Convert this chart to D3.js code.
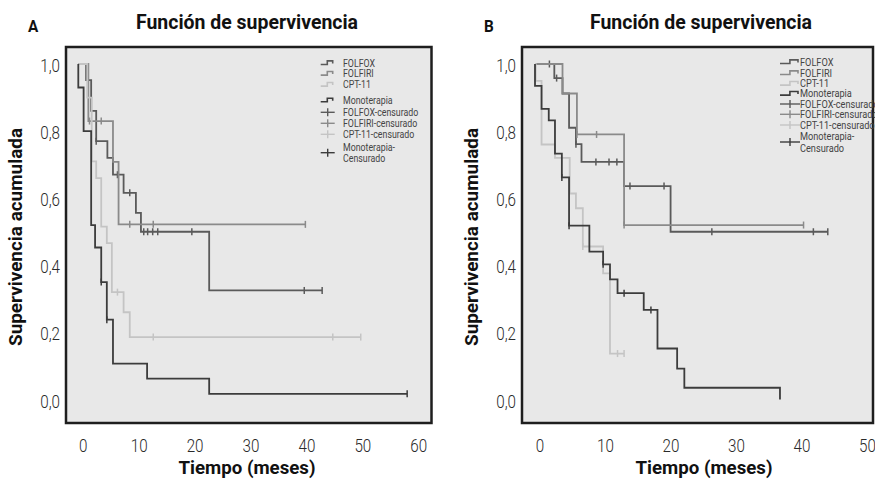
<!DOCTYPE html>
<html>
<head>
<meta charset="utf-8">
<script src="https://cdn.jsdelivr.net/npm/d3@7"></script>
<style>
  body { margin: 0; background: #fff; }
  svg { display: block; }
  text { font-family: Roboto, "Noto Sans", sans-serif; }
</style>
</head>
<body>
<div id="grafico"></div>
<script>
// ---- datos: tiempos (meses) de cada evento y supervivencia despues del evento ----
var seriesNombres = ["FOLFOX", "FOLFIRI", "CPT-11", "Monoterapia"];
var leyendaTextos = ["FOLFOX", "FOLFIRI", "CPT-11", "Monoterapia", "FOLFOX-censurado",
                     "FOLFIRI-censurado", "CPT-11-censurado", "Monoterapia-|Censurado"];
var ticksX_A = [0, 10, 20, 30, 40, 50, 60];
var ticksX_B = [0, 10, 20, 30, 40, 50];
var ticksY = [0, 0.2, 0.4, 0.6, 0.8, 1.0];

// Panel A
var A_folfox_t = [1.4, 2.3, 3.2, 5.2, 6.2, 8.1, 10.3, 11.2, 23.4];
var A_folfox_s = [0.952, 0.86, 0.77, 0.72, 0.67, 0.616, 0.556, 0.50, 0.325];
var A_folfox_c = [3.2, 7.0, 9.2, 11.7, 12.4, 13.3, 14.2, 20.3, 40.4, 43.6];
var A_folfox_fin = 43.6;

var A_folfiri_t = [1.8, 6.2, 7.2];
var A_folfiri_s = [0.83, 0.708, 0.522];
var A_folfiri_c = [2.0, 4.1, 9.2, 13.4, 40.6];
var A_folfiri_fin = 40.6;

var A_cpt_t = [1.6, 2.4, 3.2, 4.1, 5.1, 6.0, 8.1, 9.2];
var A_cpt_s = [0.90, 0.71, 0.66, 0.515, 0.466, 0.32, 0.26, 0.186];
var A_cpt_c = [7.0, 13.4, 45.5, 50.5];
var A_cpt_fin = 50.5;

var A_mono_t = [0.0, 0.95, 2.3, 3.0, 4.1, 5.1, 6.2, 12.3, 23.4];
var A_mono_s = [0.93, 0.80, 0.52, 0.453, 0.35, 0.238, 0.107, 0.062, 0.017];
var A_mono_c = [4.1, 5.1, 58.8];
var A_mono_fin = 58.8;

// Panel B
var B_folfox_t = [2.95, 4.2, 5.2, 6.25, 7.1, 13.6, 20.7];
var B_folfox_s = [0.958, 0.912, 0.81, 0.761, 0.708, 0.636, 0.50];
var B_folfox_c = [2.2, 3.3, 6.25, 9.3, 11.3, 12.5, 14.5, 19.7, 27.0, 42.5, 44.7];
var B_folfox_fin = 44.7;

var B_folfiri_t = [4.2, 6.4, 13.6];
var B_folfiri_s = [0.912, 0.79, 0.52];
var B_folfiri_c = [6.4, 9.4, 13.6, 41.0];
var B_folfiri_fin = 41.0;

var B_cpt_t = [0.1, 1.0, 3.05, 5.3, 6.25, 7.3, 10.4, 11.45];
var B_cpt_s = [0.95, 0.76, 0.72, 0.614, 0.57, 0.456, 0.376, 0.137];
var B_cpt_c = [7.3, 12.6, 13.6];
var B_cpt_fin = 13.6;

var B_mono_t = [0.0, 1.0, 2.1, 3.05, 4.1, 5.2, 8.3, 10.4, 11.45, 12.6, 16.6, 18.7, 21.7, 22.8, 37.4];
var B_mono_s = [0.935, 0.866, 0.832, 0.733, 0.662, 0.518, 0.441, 0.403, 0.358, 0.317, 0.267, 0.152, 0.092, 0.035, 0.0];
var B_mono_c = [4.1, 5.2, 10.4, 13.6, 17.7];
var B_mono_fin = 37.4;

// ---- estilo ----
var colores = ["#5a5a5a", "#8a8a8a", "#c4c4c4", "#3c3c3c"];
var fondo = "#e8e8e8";
var estrecho = 0.8; // las letras del original son condensadas

var svg = d3.select("#grafico").append("svg").attr("width", 875).attr("height", 484);
svg.append("rect").attr("width", 875).attr("height", 484).attr("fill", "#fff");

var y = d3.scaleLinear().domain([0, 1]).range([399.5, 64]);

function supervivencia(tiempos, valores, t) {
   var s = 1;
   for (var i = 0; i < tiempos.length; i++) {
      if (tiempos[i] <= t) s = valores[i];
   }
   return s;
}

// texto en negrita con ancho fijo (como en la figura)
function negrita(g, x, yy, txt, size, ancho, rot) {
   var t = g.append("text")
      .attr("text-anchor", "middle")
      .style("font-weight", "bold").style("font-size", size + "px").attr("fill", "#111")
      .attr("textLength", ancho).attr("lengthAdjust", "spacingAndGlyphs")
      .text(txt);
   if (rot) t.attr("transform", "translate(" + x + "," + yy + ") rotate(-90)");
   else t.attr("x", x).attr("y", yy);
   return t;
}

function panel(conf) {
   var g = svg.append("g");
   var x = conf.x;
   // caja
   g.append("rect")
      .attr("x", conf.caja[0]).attr("y", 47)
      .attr("width", conf.caja[1] - conf.caja[0]).attr("height", 423 - 47)
      .attr("fill", fondo).attr("stroke", "#1e1e1e").attr("stroke-width", 2.5);

   // letra y titulo
   g.append("text").attr("x", 0).attr("y", 0)
      .style("font-weight", "bold").style("font-size", "17px").attr("fill", "#111")
      .attr("transform", "translate(" + conf.letra + ",32) scale(0.9,1)")
      .text(conf.nombre);
   negrita(g, conf.tituloX, 29, "Función de supervivencia", 20, 222);

   // ejes
   var ax = g.append("g")
      .call(d3.axisBottom(x).tickValues(conf.ticks).tickSize(0).tickFormat(d3.format("d")))
      .attr("transform", "translate(4.4,436)");
   ax.select(".domain").remove();
   ax.selectAll("text").style("font-size", "19px").style("font-weight", 300).attr("fill", "#2a2a2a")
      .attr("transform", "scale(" + estrecho + ",1)");

   var ay = g.append("g").attr("transform", "translate(" + (conf.caja[0] - 6) + ",1.5)")
      .call(d3.axisLeft(y).tickValues(ticksY).tickSize(0)
         .tickFormat(function(d) { return d3.format(".1f")(d).replace(".", ","); }));
   ay.select(".domain").remove();
   ay.selectAll("text").style("font-size", "19px").style("font-weight", 300).attr("fill", "#2a2a2a")
      .attr("x", 0).attr("transform", "scale(" + estrecho + ",1)");

   negrita(g, conf.tituloXeje, 474, "Tiempo (meses)", 19, 137);
   negrita(g, conf.tituloY, 237, "Supervivencia acumulada", 18, 218, true);

   // curvas
   var linea = d3.line().x(function(d) { return x(d[0]); }).y(function(d) { return y(d[1]); })
      .curve(d3.curveStepAfter);
   conf.series.forEach(function(s, i) {
      var puntos = [[0, 1]];
      s.t.forEach(function(t, k) { puntos.push([t, s.s[k]]); });
      puntos.push([s.fin, s.s[s.s.length - 1]]);
      g.append("path").attr("d", linea(puntos)).attr("fill", "none")
         .attr("stroke", colores[i]).attr("stroke-width", 1.8);
      g.selectAll(null).data(s.c).enter().append("line")
         .attr("x1", function(d) { return x(d); }).attr("x2", function(d) { return x(d); })
         .attr("y1", function(d) { return y(supervivencia(s.t, s.s, d)) - 3.5; })
         .attr("y2", function(d) { return y(supervivencia(s.t, s.s, d)) + 3.5; })
         .attr("stroke", colores[i]).attr("stroke-width", 1.5);
   });

   // leyenda
   var lx = conf.leyenda.x, w = conf.leyenda.w;
   conf.leyenda.filas.forEach(function(fy, i) {
      var col = colores[i % 4];
      if (i < 4) {
         g.append("path")
            .attr("d", "M" + lx + "," + (fy + 1.8) + "H" + (lx + w * 0.55) + "V" + (fy - 1.8) +
                       "H" + (lx + w) + "V" + (fy + 0.8))
            .attr("fill", "none").attr("stroke", col).attr("stroke-width", 1.6);
      } else {
         var cy = (i == 7) ? fy + 6 : fy;
         g.append("line").attr("x1", lx).attr("x2", lx + w + 2).attr("y1", cy).attr("y2", cy)
            .attr("stroke", col).attr("stroke-width", 1.4);
         g.append("line").attr("x1", lx + (w + 2) / 2).attr("x2", lx + (w + 2) / 2)
            .attr("y1", cy - 4).attr("y2", cy + 4).attr("stroke", col).attr("stroke-width", 1.4);
      }
      var partes = leyendaTextos[i].split("|");
      partes.forEach(function(p, k) {
         g.append("text").attr("x", 0).attr("y", 0)
            .attr("transform", "translate(" + conf.leyenda.tx + "," + (fy + 3.8 + k * conf.leyenda.dy) + ") scale(" + estrecho + ",1)")
            .style("font-size", conf.leyenda.fs).attr("fill", "#444").text(p);
      });
   });
}

panel({
   nombre: "A", letra: 28, tituloX: 247, tituloXeje: 247, tituloY: 22,
   caja: [66, 431.5], ticks: ticksX_A,
   x: d3.scaleLinear().domain([0, 60]).range([78.3, 78.3 + 60 * 5.593]),
   series: [
      { t: A_folfox_t, s: A_folfox_s, c: A_folfox_c, fin: A_folfox_fin },
      { t: A_folfiri_t, s: A_folfiri_s, c: A_folfiri_c, fin: A_folfiri_fin },
      { t: A_cpt_t, s: A_cpt_s, c: A_cpt_c, fin: A_cpt_fin },
      { t: A_mono_t, s: A_mono_s, c: A_mono_c, fin: A_mono_fin }
   ],
   leyenda: { x: 320.7, w: 12, tx: 343, fs: "11px", dy: 11.6,
              filas: [62.7, 73.3, 84.3, 100, 112.3, 123.3, 134.3, 146.7] }
});

panel({
   nombre: "B", letra: 484, tituloX: 701, tituloXeje: 704, tituloY: 478,
   caja: [522, 873], ticks: ticksX_B,
   x: d3.scaleLinear().domain([0, 50]).range([535, 535 + 50 * 6.55]),
   series: [
      { t: B_folfox_t, s: B_folfox_s, c: B_folfox_c, fin: B_folfox_fin },
      { t: B_folfiri_t, s: B_folfiri_s, c: B_folfiri_c, fin: B_folfiri_fin },
      { t: B_cpt_t, s: B_cpt_s, c: B_cpt_c, fin: B_cpt_fin },
      { t: B_mono_t, s: B_mono_s, c: B_mono_c, fin: B_mono_fin }
   ],
   leyenda: { x: 780, w: 18, tx: 800, fs: "11.5px", dy: 12,
              filas: [61.7, 72.7, 83.3, 93.3, 104, 114.3, 125, 136] }
});
</script>
</body>
</html>
